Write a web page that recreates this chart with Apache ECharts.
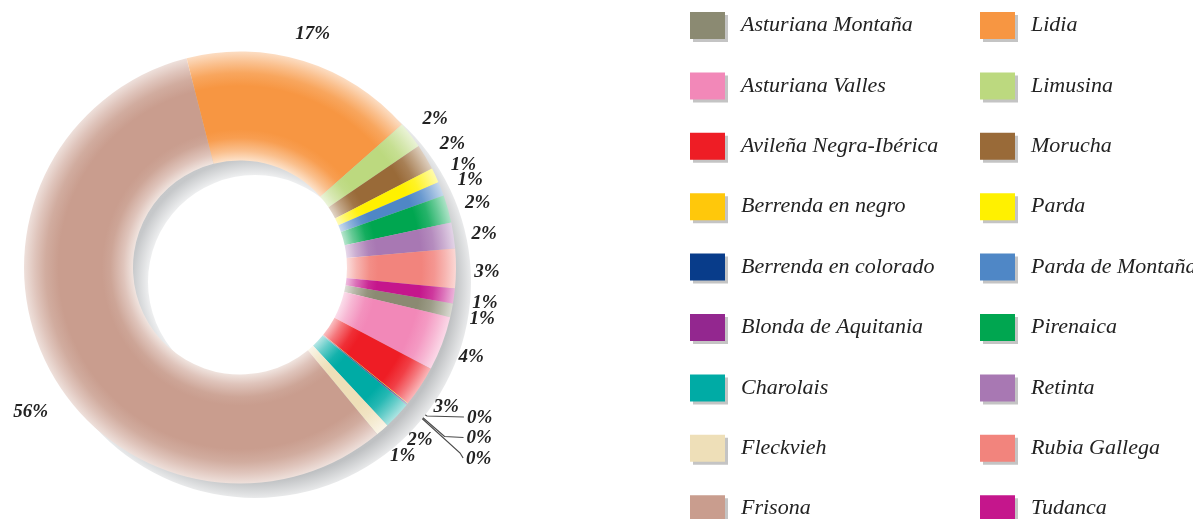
<!DOCTYPE html>
<html>
<head>
<meta charset="utf-8">
<script src="https://cdn.jsdelivr.net/npm/echarts@6/dist/echarts.min.js"></script>
<style>
html,body{margin:0;padding:0;background:#fff;}
#chart{width:1193px;height:519px;}
</style>
</head>
<body>
<div id="chart"></div>
<script>
const names = ['Asturiana Montaña','Asturiana Valles','Avileña Negra-Ibérica','Berrenda en negro','Berrenda en colorado','Blonda de Aquitania','Charolais','Fleckvieh','Frisona','Lidia','Limusina','Morucha','Parda','Parda de Montaña','Pirenaica','Retinta','Rubia Gallega','Tudanca'];
const values = [1.03, 4.08, 3.06, 0.05, 0.05, 0.05, 2.08, 1.0, 57.05, 17.5, 2.0, 1.94, 1.11, 1.06, 2.06, 1.94, 2.97, 1.11];
const pctLabels = ['1%','4%','3%','0%','0%','0%','2%','1%','56%','17%','2%','2%','1%','1%','2%','2%','3%','1%'];
const colors = ['#8b8a72','#f288b8','#ee1d25','#ffc80b','#083c8a','#93278f','#00aba5','#eedfb8','#c99d8e','#f79642','#bcd97f','#996a38','#fff100','#4f87c6','#00a650','#a878b3','#f2847d','#c5168c'];

const CX = 240, CY = 267.5, R0 = 107, R1 = 216;
const START = -9.6;
const SH_DX = 15, SH_DY = 14.5;

function mix(hex, t) {
  const n = parseInt(hex.slice(1), 16);
  const r = (n >> 16) & 255, g = (n >> 8) & 255, b = n & 255;
  const f = v => Math.round(v * (1 - t) + 255 * t);
  return 'rgb(' + f(r) + ',' + f(g) + ',' + f(b) + ')';
}
function grad(c) {
  return {
    type: 'radial', x: CX, y: CY, r: R1, global: true,
    colorStops: [
      {offset: 0, color: mix(c, 0.7)},
      {offset: 0.495, color: mix(c, 0.72)},
      {offset: 0.54, color: mix(c, 0.4)},
      {offset: 0.6, color: mix(c, 0.08)},
      {offset: 0.64, color: c},
      {offset: 0.84, color: c},
      {offset: 0.9, color: mix(c, 0.15)},
      {offset: 0.95, color: mix(c, 0.4)},
      {offset: 1, color: mix(c, 0.68)}
    ]
  };
}

const zeroIdx = [];
pctLabels.forEach((p, i) => { if (p === '0%') zeroIdx.push(i); });
const friIdx = names.indexOf('Frisona');
const total = values.reduce((a, b) => a + b, 0);
// angle (clockwise from 12 o'clock) of the middle of slice i
function midAngle(i) {
  let cum = 0;
  for (let j = 0; j < i; j++) cum += values[j];
  cum += values[i] / 2;
  return (90 - START) + 360 * cum / total;
}

const labelFont = {fontFamily: 'Liberation Serif', fontStyle: 'italic', fontWeight: 'bold', fontSize: 19, color: '#222'};

const mainData = names.map((n, i) => {
  const d = {name: n, value: values[i], itemStyle: {color: grad(colors[i])}};
  if (zeroIdx.indexOf(i) >= 0) {
    d.label = {show: true, position: 'outside'};
    d.labelLine = {show: true, length: 10, length2: 10, lineStyle: {color: '#4a4a4a', width: 1.2}};
  }
  return d;
});
const ghostData = names.map((n, i) => ({name: n, value: values[i]}));

const legendStyle = {
  orient: 'vertical', top: 12, height: 600, padding: 0,
  itemWidth: 35, itemHeight: 27, itemGap: 33.4,
  icon: 'rect', selectedMode: false,
  itemStyle: {shadowColor: '#c4c4c4', shadowOffsetX: 3, shadowOffsetY: 3, shadowBlur: 0, borderWidth: 0},
  textStyle: {fontFamily: 'Liberation Serif', fontStyle: 'italic', fontSize: 22, color: '#222', padding: [0, 0, 0, 11]}
};
const legendItems = names.map((n, i) => ({name: n, itemStyle: {color: colors[i]}}));

const chart = echarts.init(document.getElementById('chart'), null, {renderer: 'canvas'});
chart.setOption({
  animation: false,
  legend: [
    Object.assign({}, legendStyle, {left: 690, data: legendItems.slice(0, 9)}),
    Object.assign({}, legendStyle, {left: 980, data: legendItems.slice(9)})
  ],
  series: [
    {
      type: 'pie', silent: true, center: [CX + SH_DX, CY + SH_DY], radius: [R0, R1],
      label: {show: false}, labelLine: {show: false}, legendHoverLink: false,
      data: [{name: '', value: 1, itemStyle: {color: {
        type: 'radial', x: CX + SH_DX, y: CY + SH_DY, r: R1, global: true,
        colorStops: [
          {offset: 0, color: '#eeeff0'},
          {offset: 0.495, color: '#eeeff0'},
          {offset: 0.57, color: '#c6c8ca'},
          {offset: 0.92, color: '#bfc1c3'},
          {offset: 1, color: '#e9eaeb'}
        ]}}}],
      itemStyle: {borderWidth: 0}
    },
    {
      type: 'pie', center: [CX, CY], radius: [R0, R1], startAngle: START, clockwise: true,
      avoidLabelOverlap: false, silent: true,
      itemStyle: {borderWidth: 0},
      label: Object.assign({show: false, formatter: p => pctLabels[p.dataIndex]}, labelFont),
      labelLine: {show: false},
      labelLayout: function (p) {
        const k = zeroIdx.indexOf(p.dataIndex);
        if (k < 0) return {};
        const th = midAngle(p.dataIndex) * Math.PI / 180;
        const ax = CX + (R1 - 1) * Math.sin(th), ay = CY - (R1 - 1) * Math.cos(th);
        const elbow = [[20, 13], [38, 33], [54, 49]][k];
        const ty = ay + [14, 34, 54][k];
        return {
          x: ax + 60, y: ty + 1, align: 'left', verticalAlign: 'middle',
          labelLinePoints: [[ax, ay], [ax + elbow[0], ay + elbow[1]], [ax + 57, ty]]
        };
      },
      data: mainData
    },
    {
      type: 'pie', center: [CX, CY], radius: [232, 256], startAngle: START, clockwise: true,
      silent: true, legendHoverLink: false,
      itemStyle: {color: 'rgba(0,0,0,0)', borderWidth: 0},
      label: Object.assign({show: true, position: 'inside',
        formatter: p => (zeroIdx.indexOf(p.dataIndex) >= 0 ? '' : pctLabels[p.dataIndex])}, labelFont),
      labelLine: {show: false},
      labelLayout: function (p) {
        if (p.dataIndex === friIdx) return {dx: 11, dy: 33};
        return {dy: 3};
      },
      data: ghostData
    }
  ]
});
</script>
</body>
</html>
